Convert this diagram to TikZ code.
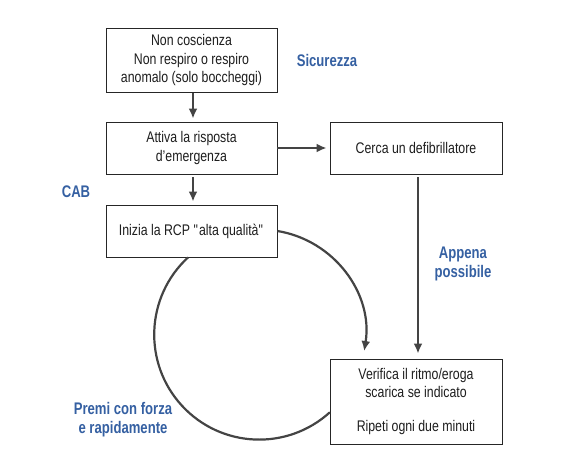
\documentclass[tikz,border=0pt]{standalone}
\usepackage{fontspec}
\setmainfont{Liberation Sans}[FakeStretch=0.8]
\newfontfamily\lblfont{Liberation Sans Bold}[FakeStretch=0.78]
\usetikzlibrary{arrows.meta}
\definecolor{lineg}{HTML}{444444}
\definecolor{lblue}{HTML}{3560A2}
\definecolor{txtc}{HTML}{1E1E1E}
\begin{document}
\begin{tikzpicture}[x=1pt,y=1pt,
  box/.style={draw=black!85, line width=0.9pt, fill=white, minimum width=171pt, align=center,
    inner sep=0pt, text=txtc, font=\fontsize{15.4}{18.5}\selectfont},
  lbl/.style={text=lblue, align=center, font=\fontsize{16.8}{19}\lblfont},
  conn/.style={draw=lineg, line width=2.2pt},
  arr/.style={conn, -{Latex[length=10pt,width=9pt]}}]
\useasboundingbox (0,0) rectangle (565,-474);
\node[box, minimum height=64pt] (b1) at (191.5,-60.5) {Non coscienza\\Non respiro o respiro\\anomalo (solo boccheggi)};
\node[box, minimum height=52pt] (b2) at (191.5,-148) {Attiva la risposta\\d’emergenza};
\node[box, minimum height=52pt, minimum width=172pt] (b3) at (416,-148) {Cerca un defibrillatore};
\node[box, minimum height=52pt] (b4) at (191.5,-231) {Inizia la RCP \textquotedbl alta qualità\textquotedbl};
\node[box, minimum height=85pt, minimum width=172pt] (b5) at (416,-401.5) {Verifica il ritmo/eroga\\scarica se indicato\\[15pt]Ripeti ogni due minuti};
\node[lbl] (l1) at (327,-60) {Sicurezza};
\node[lbl] (l2) at (76,-192) {CAB};
\node[lbl] (l3) at (463,-264) {Appena\\possibile};
\node[lbl] (l4) at (123,-420) {Premi con forza\\e rapidamente};
\draw[arr, shorten >=3pt] ([xshift=1.5pt]b1.south) -- ([xshift=1.5pt]b2.north);
\draw[arr, shorten >=3pt] ([xshift=1.5pt,yshift=-3pt]b2.south) -- ([xshift=1.5pt]b4.north);
\draw[arr, shorten >=3pt] (b2.east) -- (b3.west);
\draw[arr, shorten >=5pt] ([xshift=2pt,yshift=-3pt]b3.south) -- ([xshift=2pt]b5.north);
\draw[arr] (b4.east) arc[start angle=80.7, end angle=-9, radius=105];
\draw[conn] ([xshift=-3.5pt]b4.south) arc[start angle=132.7, end angle=312.3, radius=105];
\end{tikzpicture}
\end{document}
